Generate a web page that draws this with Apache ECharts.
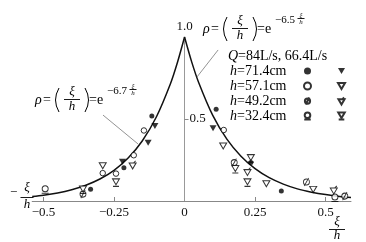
<!DOCTYPE html>
<html><head><meta charset="utf-8">
<script src="https://cdn.jsdelivr.net/npm/echarts@6/dist/echarts.min.js"></script>
<style>html,body{margin:0;padding:0;background:#fff}#c{width:366px;height:242px}</style>
</head><body><div id="c"></div>
<script>
// ---- data ----
const curveLeft = [[-0.54,0.027],[-0.5,0.035],[-0.45,0.049],[-0.4,0.069],[-0.35,0.096],[-0.3,0.134],[-0.25,0.187],[-0.2,0.262],[-0.15,0.366],[-0.1,0.512],[-0.05,0.715],[-0.025,0.846],[0,1.0]];
const curveRight = [[0,1.0],[0.025,0.85],[0.05,0.723],[0.1,0.522],[0.15,0.377],[0.2,0.273],[0.25,0.197],[0.3,0.142],[0.35,0.103],[0.4,0.074],[0.45,0.054],[0.5,0.039],[0.55,0.028],[0.59,0.022]];
const h714_Q84  = [[-0.333,0.071],[-0.215,0.203],[-0.116,0.518],[0.112,0.559],[0.235,0.234],[0.343,0.061]];
const h714_Q664 = [[-0.22,0.24],[-0.129,0.355],[-0.105,0.457],[0.101,0.443]];
const h571_Q84  = [[-0.29,0.17],[-0.243,0.167],[-0.18,0.279],[-0.144,0.43],[0.139,0.433]];
const h571_Q664 = [[-0.29,0.215],[0.137,0.335],[0.29,0.105],[0.456,0.071]];
const h492_Q84  = [[-0.36,0.042],[0.176,0.234],[0.432,0.116],[0.568,0.03]];
const h492_Q664 = [[-0.184,0.22],[0.223,0.179],[0.529,0.067]];
const h324_Q84  = [[-0.494,0.07],[0.533,0.02]];
const h324_Q664 = [[-0.36,0.068],[-0.243,0.112],[0.18,0.193],[0.235,0.26],[0.223,0.112]];
const leaderLines = [[[0.119,0.921],[0.044,0.756]],[[-0.289,0.524],[-0.165,0.348]]];
const xTickValues = [-0.5,-0.25,0,0.25,0.5];
const xTickLabels = ['−0.5','−0.25','0','0.25','0.5'];
const yTickValues = [0.5];
const yTickLabels = ['0.5'];
const yTopLabel = '1.0';
const hLabels = ['71.4cm','57.1cm','49.2cm','32.4cm'];
const qLabel = '=84L/s, 66.4L/s';
const coefRight = '−6.5';
const coefLeft = '−6.7';
const xMin = -0.54, xMax = 0.59, yMin = 0, yMax = 1.0;

const F = 'Liberation Serif';
const SYM = {
  tri: 'path://M0 0 L7 0 L3.5 6 Z',
  circSlash: 'path://M2 5 A3 3 0 1 0 8 5 A3 3 0 1 0 2 5 Z M2.8 9 L7.2 1',
  triSlash: 'path://M0 2 L7 2 L3.5 8 Z M4.5 2 L6.5 0',
  circBar: 'path://M2 4 A3 3 0 1 0 8 4 A3 3 0 1 0 2 4 Z M1.5 8.5 L8.5 8.5',
  triBar: 'path://M0 0 L7 0 L3.5 6 Z M0.5 7.5 L6.5 7.5'
};
const openStyle = {color:'#fff', borderColor:'#000', borderWidth:1};
const seriesDefs = [
  {name:'h=71.4cm Q=84', data:h714_Q84, symbol:'circle', size:5, style:{color:'#000'}},
  {name:'h=57.1cm Q=84', data:h571_Q84, symbol:'circle', size:5.5, style:openStyle},
  {name:'h=49.2cm Q=84', data:h492_Q84, symbol:SYM.circSlash, size:[6,8], style:openStyle},
  {name:'h=32.4cm Q=84', data:h324_Q84, symbol:SYM.circBar, size:[7,7.5], style:openStyle},
  {name:'h=71.4cm Q=66.4', data:h714_Q664, symbol:SYM.tri, size:[7,6], style:{color:'#000'}},
  {name:'h=57.1cm Q=66.4', data:h571_Q664, symbol:SYM.tri, size:[7,6], style:openStyle},
  {name:'h=49.2cm Q=66.4', data:h492_Q664, symbol:SYM.triSlash, size:[7,8], style:openStyle},
  {name:'h=32.4cm Q=66.4', data:h324_Q664, symbol:SYM.triBar, size:[7,7.5], style:openStyle}
];

function txt(x, y, text, size, italic, align) {
  return {type:'text', x:x, y:y, silent:true, style:{text:text, fontFamily:F, fontSize:size,
    fontStyle: italic ? 'italic' : 'normal', fill:'#000', align: align || 'left', verticalAlign:'middle',
    textAlign: align || 'left', textVerticalAlign:'middle'}};
}
function bar(x1, x2, y) {
  return {type:'rect', silent:true, shape:{x:x1, y:y, width:x2-x1, height:0.9}, style:{fill:'#000'}};
}
function paren(x, yc, half, dir) {
  return {type:'bezierCurve', silent:true,
    shape:{x1:x, y1:yc - half, x2:x, y2:yc + half, cpx1:x - dir * 7, cpy1:yc},
    style:{stroke:'#000', lineWidth:1, fill:null}};
}
function fraction(cx, ytop, ybar, ybot, size, w) {
  return [txt(cx, ytop, 'ξ', size, true, 'center'), bar(cx - w/2, cx + w/2, ybar), txt(cx, ybot, 'h', size, true, 'center')];
}
function formula(x0, yc, coef) {
  return [
    txt(x0, yc, 'ρ', 14, true),
    txt(x0 + 8, yc, '=', 14, false),
    paren(x0 + 24, yc, 12, 1),
    ...fraction(x0 + 37, yc - 8, yc - 1, yc + 7, 13, 16),
    paren(x0 + 50, yc, 12, -1),
    txt(x0 + 54, yc, '=e', 14, false),
    txt(x0 + 72, yc - 9, coef, 11, false),
    ...fraction(x0 + 98, yc - 14, yc - 11, yc - 7, 7, 7)
  ];
}

const gridLeft = 32.2, gridRight = 15, W = 366;
const zeroOffset = (W - gridLeft - gridRight) * (0 - xMin) / (xMax - xMin);

const chart = echarts.init(document.getElementById('c'), null, {renderer:'canvas'});
const series = [
  {type:'line', name:'curveL', data:curveLeft, showSymbol:false, smooth:0.3, silent:true,
    lineStyle:{color:'#111', width:1.5}, z:3},
  {type:'line', name:'curveR', data:curveRight, showSymbol:false, smooth:0.3, silent:true,
    lineStyle:{color:'#111', width:1.5}, z:3,
    markLine:{silent:true, symbol:['none','none'], label:{show:false}, lineStyle:{color:'#777', width:0.8, type:'solid'},
      data: leaderLines.map(l => [{coord:l[0]},{coord:l[1]}])}}
];
seriesDefs.forEach(d => series.push({type:'scatter', name:d.name, data:d.data, symbol:d.symbol, symbolSize:d.size,
  itemStyle:d.style, z:4}));

chart.setOption({
  animation:false,
  backgroundColor:'#fff',
  grid:{left:gridLeft, right:gridRight, top:37, bottom:41},
  xAxis:{type:'value', min:xMin, max:xMax,
    axisLine:{lineStyle:{color:'#888', width:1}},
    axisTick:{show:true, inside:true, length:4, lineStyle:{color:'#888'}, customValues:xTickValues.filter(v => v !== 0)},
    axisLabel:{customValues:xTickValues, margin:5, fontFamily:F, fontSize:13, color:'#111',
      formatter: v => xTickLabels[xTickValues.findIndex(t => Math.abs(t - v) < 1e-9)]},
    splitLine:{show:false}},
  yAxis:{type:'value', min:yMin, max:yMax, offset:-zeroOffset,
    name: yTopLabel, nameLocation:'end', nameGap:4, nameTextStyle:{fontFamily:F, fontSize:13, color:'#111', align:'center'},
    axisLine:{show:true, onZero:false, lineStyle:{color:'#999', width:1}},
    axisTick:{show:true, inside:true, length:4, lineStyle:{color:'#888'}, customValues:yTickValues},
    axisLabel:{inside:true, margin:5, customValues:yTickValues, fontFamily:F, fontSize:13, color:'#111',
      formatter: v => yTickLabels[yTickValues.indexOf(v)]},
    splitLine:{show:false}},
  legend:[
    {data:seriesDefs.slice(0,4).map(d => d.name), orient:'vertical', left:225, top:58.5, align:'right',
      itemGap:0, itemWidth:7, itemHeight:7, selectedMode:true,
      formatter: n => '{i|h}{t|=' + hLabels[seriesDefs.findIndex(d => d.name === n)] + '}',
      textStyle:{fontFamily:F, fontSize:14, lineHeight:15, color:'#000',
        rich:{i:{fontStyle:'italic', fontFamily:F, fontSize:14, lineHeight:15, align:'left'},
              t:{fontFamily:F, fontSize:14, lineHeight:15, width:62, align:'left'}}}},
    {data:seriesDefs.slice(4).map(d => d.name), orient:'vertical', left:332, top:58.5,
      itemGap:0, itemWidth:7, itemHeight:7, formatter: () => ' ',
      textStyle:{fontFamily:F, fontSize:13, lineHeight:15}}
  ],
  graphic:[
    ...formula(203, 29, coefRight),
    ...formula(35, 100, coefLeft),
    txt(228, 56, 'Q', 14, true),
    txt(238, 56, qLabel, 14, false),
    txt(10, 193, '−', 13, false),
    ...fraction(27, 188, 197, 205, 13, 13),
    ...fraction(337, 222, 229, 236, 13, 16)
  ],
  series: series
});
</script></body></html>
